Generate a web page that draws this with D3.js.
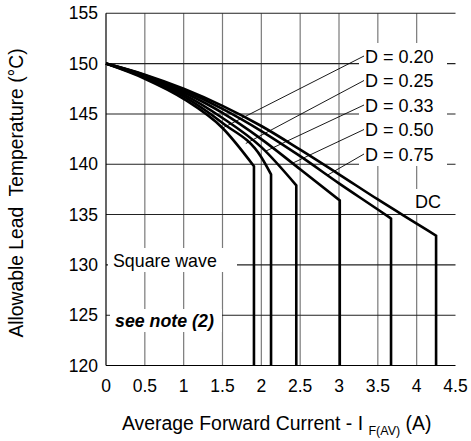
<!DOCTYPE html>
<html>
<head>
<meta charset="utf-8">
<script src="https://cdn.jsdelivr.net/npm/d3@7"></script>
<style>
  body { margin: 0; background: #fff; }
  text { font-family: "Liberation Sans", Arial, sans-serif; fill: #000; }
</style>
</head>
<body>
<svg id="chart" width="471" height="441"></svg>
<script>
// tick values
const xTicks = [0, 0.5, 1, 1.5, 2, 2.5, 3, 3.5, 4, 4.5]
const yTicks = [120, 125, 130, 135, 140, 145, 150, 155]

// curves: [current A, temperature C]
const curveD020 = [[0, 150], [0.5, 148.5], [1, 146.5], [1.5, 143.6], [1.905, 139.8]]
const curveD025 = [[0, 150], [0.5, 148.6], [1, 146.75], [1.5, 144.1], [2, 140.7], [2.125, 139.0]]
const curveD033 = [[0, 150], [0.5, 148.7], [1, 146.95], [1.5, 144.6], [2, 141.7], [2.45, 137.9]]
const curveD050 = [[0, 150], [0.5, 148.8], [1, 147.15], [1.5, 145.1], [2, 142.5], [2.5, 139.5], [3.01, 136.4]]
const curveD075 = [[0, 150], [0.5, 148.85], [1, 147.35], [1.5, 145.5], [2, 143.3], [2.5, 140.8], [3, 138.1], [3.5, 135.5], [3.67, 134.6]]
const curveDC = [[0, 150], [0.5, 148.9], [1, 147.5], [1.5, 145.8], [2, 143.8], [2.5, 141.45], [3, 139.0], [3.5, 136.5], [4, 134.1], [4.25, 132.9]]

const curves = [curveD020, curveD025, curveD033, curveD050, curveD075, curveDC]
const dutyLabels = ["D = 0.20", "D = 0.25", "D = 0.33", "D = 0.50", "D = 0.75"]
const leaderX = [1.5, 1.8, 2.05, 2.4, 2.85]

const svg = d3.select("#chart")

const x = d3.scaleLinear().domain([0, 4.5]).range([106, 455.5])
const y = d3.scaleLinear().domain([120, 155]).range([365.5, 13.3])

// grid
svg.append("g").selectAll("line")
    .data(xTicks.filter(function (d) { return d > 0 && d < 4.5 }))
    .enter().append("line")
    .attr("x1", function (d) { return x(d) }).attr("x2", function (d) { return x(d) })
    .attr("y1", y(120)).attr("y2", y(155))
    .attr("stroke", "#7a7a7a").attr("stroke-width", 1.2)

svg.append("g").selectAll("line")
    .data(yTicks.filter(function (d) { return d > 120 }))
    .enter().append("line")
    .attr("x1", x(0)).attr("x2", x(4.5))
    .attr("y1", function (d) { return y(d) }).attr("y2", function (d) { return y(d) })
    .attr("stroke", "#222").attr("stroke-width", 1.1)

// white boxes behind the labels
const boxes = [[359, 43, 88, 123], [411, 189, 33, 25], [108, 248, 129, 24], [110, 309, 112, 23]]
svg.append("g").selectAll("rect")
    .data(boxes)
    .enter().append("rect")
    .attr("x", function (d) { return d[0] }).attr("y", function (d) { return d[1] })
    .attr("width", function (d) { return d[2] }).attr("height", function (d) { return d[3] })
    .attr("fill", "#fff")

// axis lines
svg.append("line").attr("x1", x(0)).attr("x2", x(0)).attr("y1", y(120)).attr("y2", y(155))
    .attr("stroke", "#000").attr("stroke-width", 1.2)
svg.append("line").attr("x1", x(0)).attr("x2", x(4.5)).attr("y1", y(120)).attr("y2", y(120))
    .attr("stroke", "#000").attr("stroke-width", 1.2)

// tick labels
svg.append("g").selectAll("text")
    .data(yTicks)
    .enter().append("text")
    .attr("x", 98).attr("y", function (d) { return y(d) + 6 })
    .attr("text-anchor", "end").attr("font-size", 17.5)
    .text(function (d) { return d })

svg.append("g").selectAll("text")
    .data(xTicks)
    .enter().append("text")
    .attr("x", function (d) { return x(d) }).attr("y", 392)
    .attr("text-anchor", "middle").attr("font-size", 17.5)
    .text(function (d) { return d })

// interpolate a curve at a given current
function curveAt(c, cx) {
    for (let i = 1; i < c.length; i++) {
        if (cx <= c[i][0]) {
            let t = (cx - c[i - 1][0]) / (c[i][0] - c[i - 1][0])
            return c[i - 1][1] + t * (c[i][1] - c[i - 1][1])
        }
    }
    return c[c.length - 1][1]
}

// leader lines
const labelY = [56, 80.5, 105, 129.5, 154]
svg.append("g").selectAll("line")
    .data(dutyLabels)
    .enter().append("line")
    .attr("x1", 364).attr("y1", function (d, i) { return labelY[i] })
    .attr("x2", function (d, i) { return x(leaderX[i]) })
    .attr("y2", function (d, i) { return y(curveAt(curves[i], leaderX[i])) })
    .attr("stroke", "#000").attr("stroke-width", 0.9)

// curves
const line = d3.line()
    .x(function (d) { return x(d[0]) })
    .y(function (d) { return y(d[1]) })
    .curve(d3.curveMonotoneX)

svg.append("g").selectAll("path")
    .data(curves)
    .enter().append("path")
    .attr("d", function (d) {
        let last = d[d.length - 1]
        return line(d) + "L" + x(last[0]) + "," + y(120)
    })
    .attr("fill", "none").attr("stroke", "#000").attr("stroke-width", 2.6)
    .attr("stroke-linejoin", "miter")

// labels
svg.append("g").selectAll("text")
    .data(dutyLabels)
    .enter().append("text")
    .attr("x", 365).attr("y", function (d, i) { return labelY[i] + 6.5 })
    .attr("font-size", 18)
    .text(function (d) { return d })

svg.append("text").attr("x", 415).attr("y", 208).attr("font-size", 18).text("DC")
svg.append("text").attr("x", 113).attr("y", 267).attr("font-size", 17.8).text("Square wave")
svg.append("text").attr("x", 115).attr("y", 327).attr("font-size", 17.8)
    .attr("font-weight", "bold").attr("font-style", "italic").text("see note (2)")

// axis titles
svg.append("text")
    .attr("transform", "translate(23,193) rotate(-90)")
    .attr("text-anchor", "middle").attr("font-size", 19.3)
    .text("Allowable Lead\u00a0 Temperature (°C)")

const xt = svg.append("text").attr("x", 122).attr("y", 430).attr("font-size", 19.4)
xt.append("tspan").text("Average Forward Current - I\u00a0")
xt.append("tspan").attr("font-size", 12.5).attr("dy", 5).text("F(AV)")
xt.append("tspan").attr("dy", -5).text("\u00a0(A)")
</script>
</body>
</html>
